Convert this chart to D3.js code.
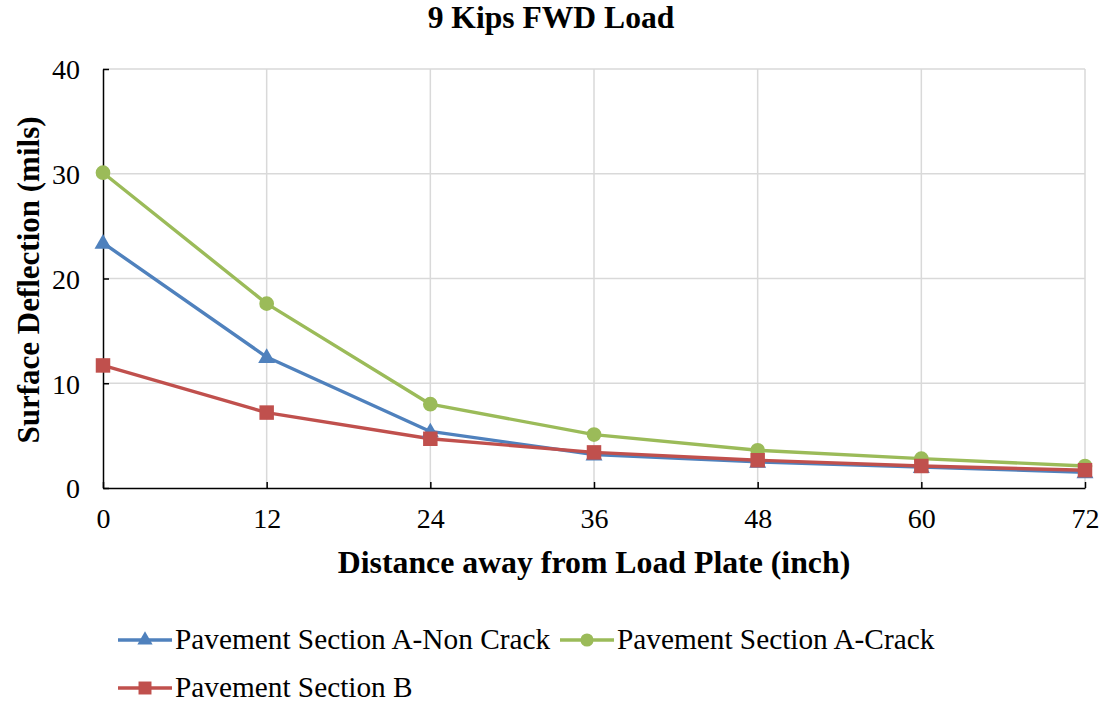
<!DOCTYPE html>
<html><head><meta charset="utf-8">
<script src="https://cdn.jsdelivr.net/npm/d3@7"></script>
<style>body{margin:0;background:#fff}svg{display:block}text{font-family:"Liberation Serif","Times New Roman",serif;fill:#000}</style>
</head><body>
<svg id="c" width="1106" height="702"></svg>
<script>
const distances = [0, 12, 24, 36, 48, 60, 72];
const nonCrack = [23.4, 12.5, 5.4, 3.2, 2.5, 2.0, 1.5];
const crack = [30.1, 17.6, 8.0, 5.1, 3.6, 2.8, 2.1];
const sectionB = [11.7, 7.2, 4.7, 3.4, 2.65, 2.1, 1.7];
const yTicks = [0, 10, 20, 30, 40];
const seriesNames = ["Pavement Section A-Non Crack", "Pavement Section A-Crack", "Pavement Section B"];

const series = [
  {name: seriesNames[0], values: nonCrack, color: "#4f81bd", marker: "triangle"},
  {name: seriesNames[1], values: crack, color: "#9bbb59", marker: "circle"},
  {name: seriesNames[2], values: sectionB, color: "#c0504d", marker: "square"}
];

const svg = d3.select("#c");
const L = 103, R = 1085, T = 69, B = 488;
const x = d3.scaleLinear().domain([0, 72]).range([L, R]);
const y = d3.scaleLinear().domain([0, 40]).range([B, T]);

// gridlines
svg.append("g").selectAll("line").data(yTicks.filter(d => d > 0)).join("line")
  .attr("x1", L).attr("x2", R).attr("y1", d => y(d)).attr("y2", d => y(d))
  .attr("stroke", "#d9d9d9").attr("stroke-width", 1.5);
svg.append("g").selectAll("line").data(distances.filter(d => d > 0)).join("line")
  .attr("x1", d => x(d)).attr("x2", d => x(d)).attr("y1", T).attr("y2", B)
  .attr("stroke", "#d9d9d9").attr("stroke-width", 1.5);

// axes
const yAxis = d3.axisLeft(y).tickValues(yTicks).tickSizeInner(-6).tickSizeOuter(0).tickPadding(23);
const gy = svg.append("g").attr("transform", `translate(${L},0)`).call(yAxis);
const xAxis = d3.axisBottom(x).tickValues(distances).tickSizeInner(-6).tickSizeOuter(0).tickPadding(21);
const gx = svg.append("g").attr("transform", `translate(0,${B})`).call(xAxis);
[gy, gx].forEach(g => {
  g.select(".domain").attr("stroke", "#000").attr("stroke-width", 1.5);
  g.selectAll(".tick line").attr("stroke", "#000").attr("stroke-width", 1.5);
  g.selectAll(".tick text").attr("font-family", "Liberation Serif").attr("font-size", 28).attr("fill", "#000");
});
gy.selectAll(".tick text").attr("dy", "0.35em");
gx.selectAll(".tick text").attr("dy", "0.68em");

// lines
const line = d3.line().x((d, i) => x(distances[i])).y(d => y(d));
const symbolFor = m => m === "triangle" ? d3.symbolTriangle : m === "circle" ? d3.symbolCircle : d3.symbolSquare;
const sizeFor = m => m === "triangle" ? 125 : m === "circle" ? 170 : 210;

series.forEach(s => {
  svg.append("path").datum(s.values).attr("d", line)
    .attr("fill", "none").attr("stroke", s.color).attr("stroke-width", 3.4).attr("stroke-linejoin", "round");
});
series.forEach(s => {
  svg.append("g").selectAll("path").data(s.values).join("path")
    .attr("d", d3.symbol().type(symbolFor(s.marker)).size(sizeFor(s.marker)))
    .attr("transform", (d, i) => `translate(${x(distances[i])},${y(d) + (s.marker === "triangle" ? 1 : 0)})`)
    .attr("fill", s.color);
});

// titles
svg.append("text").attr("x", 551).attr("y", 28).attr("text-anchor", "middle")
  .attr("font-size", 31.6).attr("font-weight", "bold").text("9 Kips FWD Load");
svg.append("text").attr("x", (L + R) / 2).attr("y", 573).attr("text-anchor", "middle")
  .attr("font-size", 31.8).attr("font-weight", "bold").text("Distance away from Load Plate (inch)");
svg.append("text").attr("transform", `translate(39,280) rotate(-90)`).attr("text-anchor", "middle")
  .attr("font-size", 31).attr("font-weight", "bold").text("Surface Deflection (mils)");

// legend
const legendPos = [[118, 640], [560, 640], [118, 688]];
series.forEach((s, i) => {
  const [lx, ly] = legendPos[i];
  const g = svg.append("g");
  g.append("line").attr("x1", lx).attr("x2", lx + 54).attr("y1", ly).attr("y2", ly)
    .attr("stroke", s.color).attr("stroke-width", 3.4);
  g.append("path").attr("d", d3.symbol().type(symbolFor(s.marker)).size(sizeFor(s.marker) * 0.8))
    .attr("transform", `translate(${lx + 27},${ly})`).attr("fill", s.color);
  g.append("text").attr("x", lx + 57).attr("y", ly + 9).attr("font-size", 29.3).text(s.name);
});
</script>
</body></html>
